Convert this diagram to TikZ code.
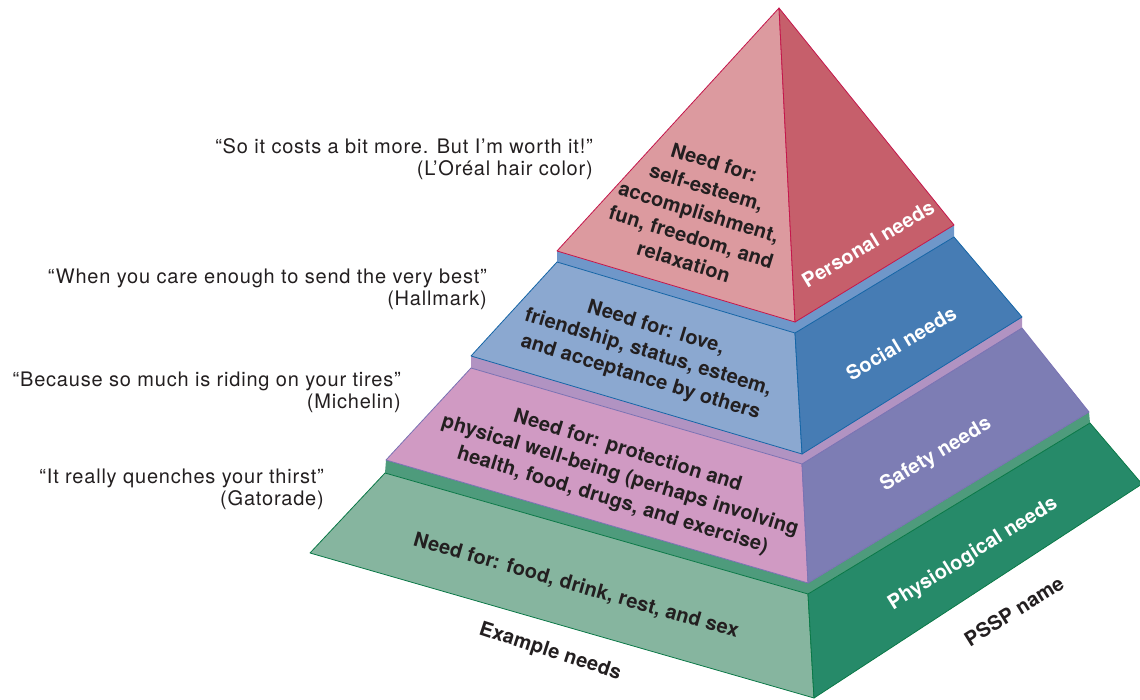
\documentclass[tikz,border=0pt]{standalone}
\usepackage{fontspec}
\setmainfont{TeX Gyre Heros}
\newfontfamily\quotefont[LetterSpace=4]{TeX Gyre Heros}
\newfontfamily\facefont[LetterSpace=1]{TeX Gyre Heros}
\usepackage{tikz}

\definecolor{redL}{HTML}{DC9A9F}
\definecolor{redR}{HTML}{C65F6B}
\definecolor{redE}{HTML}{C4164B}
\definecolor{blueL}{HTML}{8BA8D0}
\definecolor{blueR}{HTML}{467CB4}
\definecolor{blueT}{HTML}{6F97C9}
\definecolor{blueE}{HTML}{1565A6}
\definecolor{pinkL}{HTML}{D09AC3}
\definecolor{purR}{HTML}{7D7DB4}
\definecolor{purT}{HTML}{B193C2}
\definecolor{purE}{HTML}{7A72B3}
\definecolor{greenL}{HTML}{86B59F}
\definecolor{greenR}{HTML}{268A69}
\definecolor{greenT}{HTML}{4E9B7C}
\definecolor{greenE}{HTML}{0A7847}
\definecolor{ink}{HTML}{231F20}

\begin{document}
\begin{tikzpicture}[x=1pt,y=-1pt,
    facetext/.style={font=\facefont\bfseries\fontsize{20}{26}\selectfont, align=center, text=ink, inner sep=0pt},
    sidetext/.style={font=\facefont\bfseries\fontsize{20}{24}\selectfont, text=white, inner sep=0pt},
    quote/.style={font=\quotefont\fontsize{20}{22}\selectfont, align=right, anchor=east, text=ink, inner sep=0pt},
    face/.style={line width=0.8pt, line join=round}]
\useasboundingbox (0,0) rectangle (1140,700);

% Corners
\coordinate (apex) at (779,8);
\coordinate (redL) at (557,251);
\coordinate (redF) at (795,322);
\coordinate (redR) at (954,225);

\coordinate (blueLt) at (557,262);
\coordinate (blueFt) at (795,333);
\coordinate (blueRt) at (954,237);
\coordinate (blueLb) at (471,356);
\coordinate (blueFb) at (802,454);
\coordinate (blueRb) at (1022,317);

\coordinate (purLt) at (471,368);
\coordinate (purFt) at (802,464);
\coordinate (purRt) at (1022,328);
\coordinate (purLb) at (386,460);
\coordinate (purFb) at (808,583);
\coordinate (purRb) at (1089,412);

\coordinate (greenLt) at (385,473);
\coordinate (greenFt) at (808,594);
\coordinate (greenRt) at (1090,423);
\coordinate (greenLb) at (310,553);
\coordinate (greenFb) at (814,698);
\coordinate (greenRb) at (1142,484);

% Physiological layer
\fill[greenT] (purLb) -- (purFb) -- (purRb) -- (greenRt) -- (greenFt) -- (greenLt) -- cycle;
\draw[face, draw=greenE, fill=greenL] (greenLt) -- (greenFt) -- (greenFb) -- (greenLb) -- cycle;
\draw[face, draw=greenE, fill=greenR] (greenFt) -- (greenRt) -- (greenRb) -- (greenFb) -- cycle;

% Safety layer
\fill[purT] (blueLb) -- (blueFb) -- (blueRb) -- (purRt) -- (purFt) -- (purLt) -- cycle;
\draw[face, draw=purE, fill=pinkL] (purLt) -- (purFt) -- (purFb) -- (purLb) -- cycle;
\draw[face, draw=purE, fill=purR] (purFt) -- (purRt) -- (purRb) -- (purFb) -- cycle;

% Social layer
\fill[blueT] (redL) -- (redF) -- (redR) -- (blueRt) -- (blueFt) -- (blueLt) -- cycle;
\draw[face, draw=blueE, fill=blueL] (blueLt) -- (blueFt) -- (blueFb) -- (blueLb) -- cycle;
\draw[face, draw=blueE, fill=blueR] (blueFt) -- (blueRt) -- (blueRb) -- (blueFb) -- cycle;

% Personal layer
\draw[face, draw=redE, fill=redL] (apex) -- (redF) -- (redL) -- cycle;
\draw[face, draw=redE, fill=redR] (apex) -- (redR) -- (redF) -- cycle;

% Example needs
\node[facetext, rotate=-17] (needPersonal) at (699,212) {Need for:\\self-esteem,\\accomplishment,\\fun, freedom, and\\relaxation};
\node[facetext, rotate=-17] (needSocial) at (648,353) {Need for: love,\\friendship, status, esteem,\\and acceptance by others};
\node[facetext, rotate=-17] (needSafety) at (620,476) {Need for: protection and\\physical well-being (perhaps involving\\health, food, drugs, and exercise)};
\node[facetext, rotate=-16] (needPhys) at (576,586) {Need for: food, drink, rest, and sex};

% PSSP names
\node[sidetext, rotate=31] (namePersonal) at (868,244) {Personal needs};
\node[sidetext, rotate=31] (nameSocial) at (901,343) {Social needs};
\node[sidetext, rotate=31] (nameSafety) at (936,455) {Safety needs};
\node[sidetext, rotate=32] (namePhys) at (973,554) {Physiological needs};

% Axis labels
\node[facetext, rotate=-18] (exampleLabel) at (550,652) {Example needs};
\node[facetext, rotate=32] (psspLabel) at (1014,611) {PSSP name};

% Slogans
\node[quote] (quotePersonal) at (593,159) {“So it costs a bit more. But I’m worth it!”\\(L’Oréal hair color)};
\node[quote] (quoteSocial) at (487,289) {“When you care enough to send the very best”\\(Hallmark)};
\node[quote] (quoteSafety) at (401,392) {“Because so much is riding on your tires”\\(Michelin)};
\node[quote] (quotePhys) at (324,489) {“It really quenches your thirst”\\(Gatorade)};
\end{tikzpicture}
\end{document}
